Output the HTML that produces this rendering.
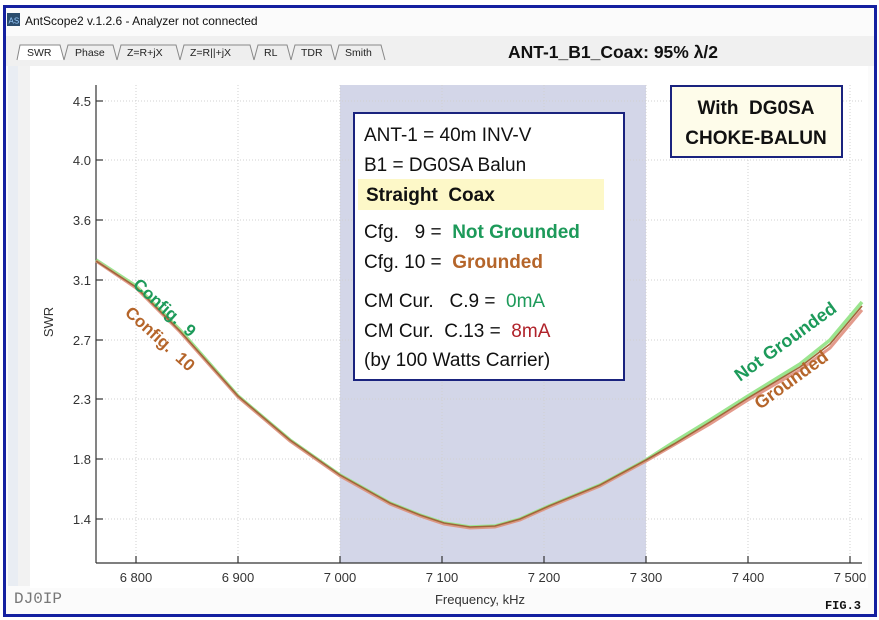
<!DOCTYPE html>
<html><head><meta charset="utf-8"><style>
html,body{margin:0;padding:0;background:#fff;}
svg{display:block;}
text{white-space:pre;}
</style></head><body>
<svg width="879" height="620" viewBox="0 0 879 620" xmlns="http://www.w3.org/2000/svg" font-family="Liberation Sans, sans-serif" xml:space="preserve">
<rect x="0" y="0" width="879" height="620" fill="#fff"/>
<rect x="6" y="8" width="868" height="606" fill="#fbfbfb"/>
<rect x="6" y="36" width="868" height="30" fill="#f0f0f0"/>
<rect x="8" y="66" width="10" height="520" fill="#e9edf3"/>
<rect x="18" y="66" width="12" height="520" fill="#f2f2f2"/>
<rect x="30" y="66" width="838" height="522" fill="#fff"/>
<rect x="7" y="13" width="13" height="13" fill="#2b4d6e"/>
<text x="8.5" y="23.5" font-size="8" fill="#9cf">AS</text>
<text x="25" y="25" font-size="12" fill="#111">AntScope2 v.1.2.6 - Analyzer not connected</text>
<g font-size="10.5" fill="#222" stroke="none">
<path d="M17,60 L20,45 L60,45 L64,60" fill="#fff" stroke="#888"/>
<text x="27" y="56">SWR</text>
<path d="M64,60 L68,45 L113,45 L117,60" fill="#eee" stroke="#888"/>
<text x="75" y="56">Phase</text>
<path d="M117,60 L121,45 L176,45 L180,60" fill="#eee" stroke="#888"/>
<text x="127" y="56">Z=R+jX</text>
<path d="M180,60 L184,45 L250,45 L254,60" fill="#eee" stroke="#888"/>
<text x="190" y="56">Z=R||+jX</text>
<path d="M254,60 L258,45 L287,45 L291,60" fill="#eee" stroke="#888"/>
<text x="264" y="56">RL</text>
<path d="M291,60 L295,45 L331,45 L335,60" fill="#eee" stroke="#888"/>
<text x="301" y="56">TDR</text>
<path d="M335,60 L339,45 L381,45 L385,60" fill="#eee" stroke="#888"/>
<text x="345" y="56">Smith</text>
</g>
<text x="613" y="58" font-size="17.5" font-weight="bold" text-anchor="middle" fill="#111">ANT-1_B1_Coax: 95% λ/2</text>
<rect x="340" y="85" width="306" height="478" fill="#d3d6e8"/>
<g stroke="#d0d0d0" stroke-dasharray="1,2" stroke-width="1">
<line x1="96" y1="101" x2="862" y2="101"/><line x1="96" y1="160" x2="862" y2="160"/>
<line x1="96" y1="220" x2="862" y2="220"/><line x1="96" y1="280" x2="862" y2="280"/>
<line x1="96" y1="340" x2="862" y2="340"/><line x1="96" y1="399" x2="862" y2="399"/>
<line x1="96" y1="459" x2="862" y2="459"/><line x1="96" y1="519" x2="862" y2="519"/>
<line x1="136" y1="85" x2="136" y2="563"/><line x1="238" y1="85" x2="238" y2="563"/>
<line x1="340" y1="85" x2="340" y2="563"/><line x1="442" y1="85" x2="442" y2="563"/>
<line x1="544" y1="85" x2="544" y2="563"/><line x1="646" y1="85" x2="646" y2="563"/>
<line x1="748" y1="85" x2="748" y2="563"/><line x1="850" y1="85" x2="850" y2="563"/>
</g>
<g stroke="#333" stroke-width="1.2">
<line x1="96" y1="85" x2="96" y2="563"/><line x1="96" y1="563" x2="862" y2="563"/>
<line x1="96" y1="101" x2="103" y2="101"/><line x1="96" y1="160" x2="103" y2="160"/>
<line x1="96" y1="220" x2="103" y2="220"/><line x1="96" y1="280" x2="103" y2="280"/>
<line x1="96" y1="340" x2="103" y2="340"/><line x1="96" y1="399" x2="103" y2="399"/>
<line x1="96" y1="459" x2="103" y2="459"/><line x1="96" y1="519" x2="103" y2="519"/>
<line x1="136" y1="563" x2="136" y2="556"/><line x1="238" y1="563" x2="238" y2="556"/>
<line x1="340" y1="563" x2="340" y2="556"/><line x1="442" y1="563" x2="442" y2="556"/>
<line x1="544" y1="563" x2="544" y2="556"/><line x1="646" y1="563" x2="646" y2="556"/>
<line x1="748" y1="563" x2="748" y2="556"/><line x1="850" y1="563" x2="850" y2="556"/>
</g>
<g font-size="13" fill="#333" text-anchor="end">
<text x="91" y="106">4.5</text><text x="91" y="165">4.0</text><text x="91" y="225">3.6</text>
<text x="91" y="285">3.1</text><text x="91" y="345">2.7</text><text x="91" y="404">2.3</text>
<text x="91" y="464">1.8</text><text x="91" y="524">1.4</text>
</g>
<g font-size="13" fill="#333" text-anchor="middle">
<text x="136" y="582">6 800</text><text x="238" y="582">6 900</text><text x="340" y="582">7 000</text>
<text x="442" y="582">7 100</text><text x="544" y="582">7 200</text><text x="646" y="582">7 300</text>
<text x="748" y="582">7 400</text><text x="850" y="582">7 500</text>
<text x="480" y="604">Frequency, kHz</text>
</g>
<text transform="translate(53,322) rotate(-90)" font-size="13" fill="#333" text-anchor="middle">SWR</text>
<path d="M96,260 L136,286 L180,330 L238,396 L290,440 L340,475 L390,503 L420,515 L444,523 L470,527 L495,526 L520,519 L549,506 L600,485 L646,460 L674,442 L710,420 L748,396 L800,364 L830,340 L862,302" fill="none" stroke="#9be58f" stroke-width="3.5"/>
<path d="M96,261 L136,288 L180,332 L238,397 L290,441 L340,476 L390,504 L420,516 L444,524 L470,528 L495,527 L520,520 L549,507 L600,486 L646,461 L674,445 L710,424 L748,400 L800,370 L830,348 L862,310" fill="none" stroke="#e09080" stroke-width="3" opacity="0.9"/>
<path d="M96,261 L136,287 L180,331 L238,396 L290,440 L340,475 L390,503 L420,515 L444,523 L470,527 L495,526 L520,519 L549,506 L600,485 L646,460 L674,444 L710,422 L748,398 L800,367 L830,344 L862,306" fill="none" stroke="#a0663a" stroke-width="1.6"/>
<text transform="translate(132,286) rotate(42)" font-size="17" font-weight="bold" fill="#1d9a5a">Config.  9</text>
<text transform="translate(124,314) rotate(42)" font-size="17" font-weight="bold" fill="#b5652a">Config.  10</text>
<text transform="translate(740,382) rotate(-36)" font-size="18" font-weight="bold" fill="#1d9a5a">Not Grounded</text>
<text transform="translate(760,410) rotate(-36)" font-size="18" font-weight="bold" fill="#b5652a">Grounded</text>
<rect x="354" y="113" width="270" height="267" fill="#fff" stroke="#1a237e" stroke-width="2"/>
<rect x="358" y="179" width="246" height="31" fill="#fdf8c8"/>
<g font-size="19" fill="#111">
<text x="364" y="141">ANT-1 = 40m INV-V</text>
<text x="364" y="171">B1 = DG0SA Balun</text>
<text x="366" y="201" font-weight="bold">Straight  Coax</text>
<text x="364" y="238">Cfg.   9 =  <tspan fill="#1d9a5a" font-weight="bold">Not Grounded</tspan></text>
<text x="364" y="268">Cfg. 10 =  <tspan fill="#b5652a" font-weight="bold">Grounded</tspan></text>
<text x="364" y="307">CM Cur.   C.9 =  <tspan fill="#1d9a5a">0mA</tspan></text>
<text x="364" y="337">CM Cur.  C.13 =  <tspan fill="#b0222a">8mA</tspan></text>
<text x="364" y="366">(by 100 Watts Carrier)</text>
</g>
<rect x="671" y="86" width="171" height="71" fill="#fefcea" stroke="#1a237e" stroke-width="2"/>
<g font-size="19" font-weight="bold" fill="#111" text-anchor="middle">
<text x="756" y="114">With  DG0SA</text>
<text x="756" y="144">CHOKE-BALUN</text>
</g>
<text x="14" y="603" font-family="Liberation Mono, monospace" font-size="16" fill="#777">DJ0IP</text>
<text x="861" y="609" font-family="Liberation Mono, monospace" font-size="12" font-weight="bold" fill="#111" text-anchor="end">FIG.3</text>
<rect x="4.5" y="6.5" width="871" height="609" fill="none" stroke="#1420a0" stroke-width="3"/>
</svg>
</body></html>
